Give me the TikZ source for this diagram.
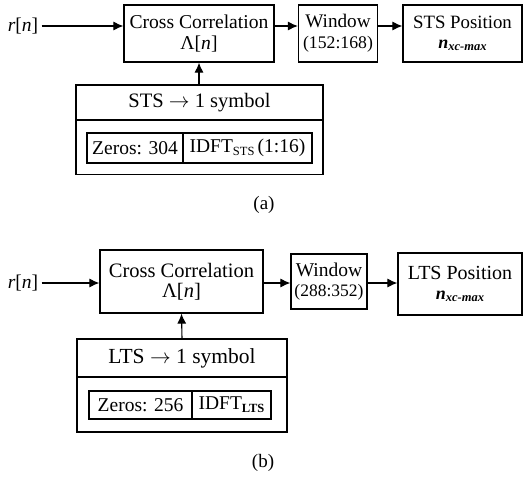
\documentclass[tikz,border=0pt]{standalone}
\usepackage{fontspec}
\setmainfont{Liberation Serif}
\usetikzlibrary{arrows.meta}
\newcommand{\fs}[1]{\fontsize{#1}{#1}\selectfont}
\newcommand{\lowsub}[1]{\raisebox{-0.3ex}{\fs{12.5}#1}}
\newcommand{\nxc}{\textbf{\textit{n}}\lowsub{\textbf{\textit{xc-max}}}}
\newcommand{\toarr}{ $\rightarrow$ }
\tikzset{
  block/.style={draw,line width=1.2pt,inner sep=0pt,align=center},
  arr/.style={-{Latex[length=10pt,width=9pt]},line width=1.1pt}
}
\begin{document}
\begin{tikzpicture}[x=1pt,y=-1pt]
\useasboundingbox (0,0) rectangle (524,479);
% (a)
\node (rn1) at (23,26) {\fs{19.5}\textit{r}[\textit{n}]};
\node[block,minimum width=150,minimum height=57] (cc1) at (199,33.5)
  {\fs{19.6}Cross Correlation\\[6pt]\fs{19.6}Λ[\textit{n}]};
\node[block,minimum width=79,minimum height=57] (win1) at (338,33.5)
  {\fs{19.2}Window\\[7pt]\fs{17.7}(152:168)};
\node[block,minimum width=119,minimum height=57] (pos1) at (462.5,33.5)
  {\fs{18.8}STS Position\\[8pt]\fs{18}\nxc};
\node[block,minimum width=247,minimum height=35] (hdr1) at (199.5,102.5)
  {\fs{20.5}STS\toarr 1 symbol};
\node[block,minimum width=247,minimum height=54.5] (body1) at (199.5,147.25) {};
\node[block,minimum width=96,minimum height=30] (zero1) at (135,148)
  {\fs{19.5}Zeros: 304};
\node[block,minimum width=129,minimum height=30] (idft1) at (247.5,148)
  {\fs{19.5}IDFT\lowsub{STS}\,(1:16)};
\draw[arr] (rn1) -- (rn1 -| cc1.west);
\draw[arr] (cc1.east |- rn1) -- (win1.west |- rn1);
\draw[arr] (win1.east |- rn1) -- (pos1.west |- rn1);
\draw[arr] (hdr1.north -| cc1) -- (cc1.south);
\node (capa) at (264,205) {\fs{19}(a)};
% (b)
\node (rn2) at (23,283) {\fs{19.5}\textit{r}[\textit{n}]};
\node[block,minimum width=163,minimum height=63] (cc2) at (181.5,281.5)
  {\fs{20.5}Cross Correlation\\[5pt]\fs{20.5}Λ[\textit{n}]};
\node[block,minimum width=76,minimum height=55] (win2) at (329,281.5)
  {\fs{19.5}Window\\[6pt]\fs{17.5}(288:352)};
\node[block,minimum width=124,minimum height=62] (pos2) at (460,284)
  {\fs{20}LTS Position\\[8pt]\fs{18}\nxc};
\node[block,minimum width=210,minimum height=38] (hdr2) at (182,358)
  {\fs{21.5}LTS\toarr 1 symbol};
\node[block,minimum width=210,minimum height=55] (body2) at (182,404.5) {};
\node[block,minimum width=103,minimum height=28] (zero2) at (140.5,405)
  {\fs{19.5}Zeros: 256};
\node[block,minimum width=79,minimum height=28] (idft2) at (231.5,405)
  {\fs{19.5}IDFT\lowsub{\textbf{LTS}}};
\draw[arr] (rn2) -- (rn2 -| cc2.west);
\draw[arr] (cc2.east |- rn2) -- (win2.west |- rn2);
\draw[arr] (win2.east |- rn2) -- (pos2.west |- rn2);
\draw[arr] (hdr2.north) -- (cc2.south);
\node (capb) at (263,463) {\fs{19}(b)};
\end{tikzpicture}
\end{document}
